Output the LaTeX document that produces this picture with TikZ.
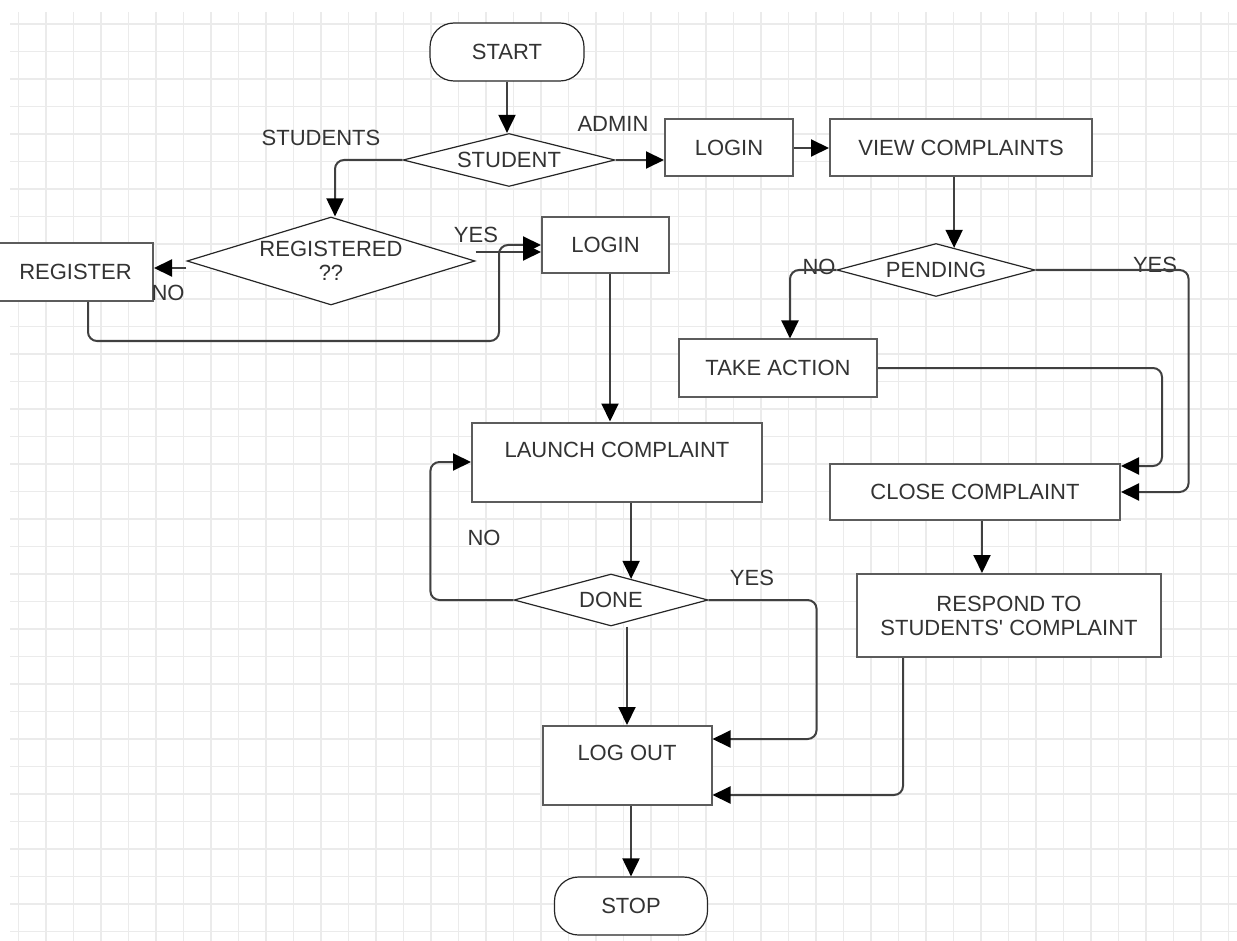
\documentclass[tikz,border=0pt]{standalone}
\usepackage{fontspec}
\setmainfont{Liberation Sans}
\usetikzlibrary{shapes.geometric,arrows.meta,calc}
\tikzset{
procnode/.style = {shape=rectangle, draw=black!64, line width=2pt,
                   fill=white, text=black!80, align=center,
                   inner sep=0pt, font=\fontsize{22}{24}\selectfont},
topnode/.style  = {procnode, text height=16pt, text depth=26pt},
decision/.style = {procnode, diamond, aspect=4, draw=black!85, line width=1.2pt},
terminal/.style = {procnode, draw=black!85, line width=1.2pt, rounded corners=24pt},
lbl/.style      = {text=black!80, inner sep=0pt, font=\fontsize{22}{24}\selectfont},
conn/.style     = {draw=black!75, line width=2pt, rounded corners=9pt,
                   -{Triangle[length=18pt,width=17pt,color=black]}},
gridline/.style = {draw=black!8, line width=1.6pt}
}

\begin{document}
\begin{tikzpicture}[x=1pt, y=-1pt]
\useasboundingbox (0,0) rectangle (1237,941);
% background grid
\foreach \i in {0,...,44}
  \draw[gridline] ({18.3+27.5*\i},12) -- ({18.3+27.5*\i},941);
\foreach \j in {0,...,33}
  \draw[gridline] (10,{24+27.5*\j}) -- (1237,{24+27.5*\j});

% nodes
\node[terminal, minimum width=154pt, minimum height=58pt] (start) at (507,52) {START};
\node[decision, minimum width=212pt, minimum height=53pt] (student) at (509,160) {STUDENT};
\node[procnode, minimum width=128pt, minimum height=57pt] (login1) at (729,148) {LOGIN};
\node[procnode, minimum width=262pt, minimum height=57pt] (view) at (961,148) {VIEW COMPLAINTS};
\node[decision, minimum width=198pt, minimum height=53pt] (pending) at (936,270) {PENDING};
\node[procnode, minimum width=198pt, minimum height=57pt] (action) at (778,368) {TAKE ACTION};
\node[procnode, minimum width=290pt, minimum height=56pt] (close) at (975,492) {CLOSE COMPLAINT};
\node[procnode, minimum width=304pt, minimum height=83pt] (respond) at (1009,615.5)
  {RESPOND TO\\STUDENTS\textquotesingle{} COMPLAINT};
\node[decision, aspect=3.3, minimum width=288pt, minimum height=88pt] (registered) at (331,261)
  {REGISTERED\\??};
\node[procnode, minimum width=155pt, minimum height=58pt] (register) at (75.5,272) {REGISTER};
\node[procnode, minimum width=127pt, minimum height=56pt] (login2) at (605.5,245) {LOGIN};
\node[topnode, minimum width=290pt, minimum height=79pt] (launch) at (617,462) {LAUNCH COMPLAINT};
\node[decision, minimum width=194pt, minimum height=52pt] (done) at (611,600) {DONE};
\node[topnode, minimum width=169pt, minimum height=79pt] (logout) at (627,765.5) {LOG OUT};
\node[terminal, minimum width=153pt, minimum height=58pt] (stop) at (631,906) {STOP};

% branch labels
\node[lbl] (l-students) at (321,138) {STUDENTS};
\node[lbl] (l-admin)    at (613,124) {ADMIN};
\node[lbl] (l-regyes)   at (476,235) {YES};
\node[lbl] (l-regno)    at (168,293) {NO};
\node[lbl] (l-pendno)   at (819,267) {NO};
\node[lbl] (l-pendyes)  at (1155,265) {YES};
\node[lbl] (l-doneno)   at (484,538) {NO};
\node[lbl] (l-doneyes)  at (752,578) {YES};

% admin side
\draw[conn] (start.south) -- (start.south |- student.north);
\draw[conn] (student.east) -- (student.east -| login1.west);
\draw[conn] (login1) -- (view);
\coordinate (pendin) at ($(pending.north)!.182!(pending.east)$);
\draw[conn] (pendin |- view.south) -- (pendin);
\draw[conn] (pending.west) -| ([xshift=12pt]action.north);
\draw[conn] (pending.east) -- ++(153,0) |- (close.east);
\draw[conn] (action.east) -- ++(284,0) |- ([yshift=26pt]close.east);
\draw[conn] ([xshift=7pt]close.south) -- ([xshift=7pt]close.south |- respond.north);
\draw[conn] ([xshift=-106pt]respond.south) |- ([yshift=-29.5pt]logout.east);

% student side
\draw[conn] (student.west) -| ([xshift=4pt]registered.north);
\draw[conn] ([yshift=-7pt]registered.west) -- ([yshift=-7pt]registered.west -| register.east);
\draw[conn] ([yshift=9pt]registered.east) -- ([yshift=9pt]registered.east -| login2.west);
\draw[conn] ([xshift=12.5pt]register.south) -- ++(0,39) -| ([xshift=-42pt]login2.west)
  -- (login2.west);
\draw[conn] ([xshift=4.5pt]login2.south) -- ([xshift=4.5pt]login2.south |- launch.north);
\coordinate (donein) at ($(done.north)!.206!(done.east)$);
\draw[conn] (donein |- launch.south) -- (donein);
\draw[conn] (done.west) -- ++(-83,0) |- (launch.west);
\draw[conn] (done.east) -- ++(108,0) |- ([yshift=26.5pt]logout.east);
\draw[conn] (done.south -| logout.north) -- (logout.north);
\draw[conn] (logout.south -| stop.north) -- (stop.north);
\end{tikzpicture}
\end{document}
